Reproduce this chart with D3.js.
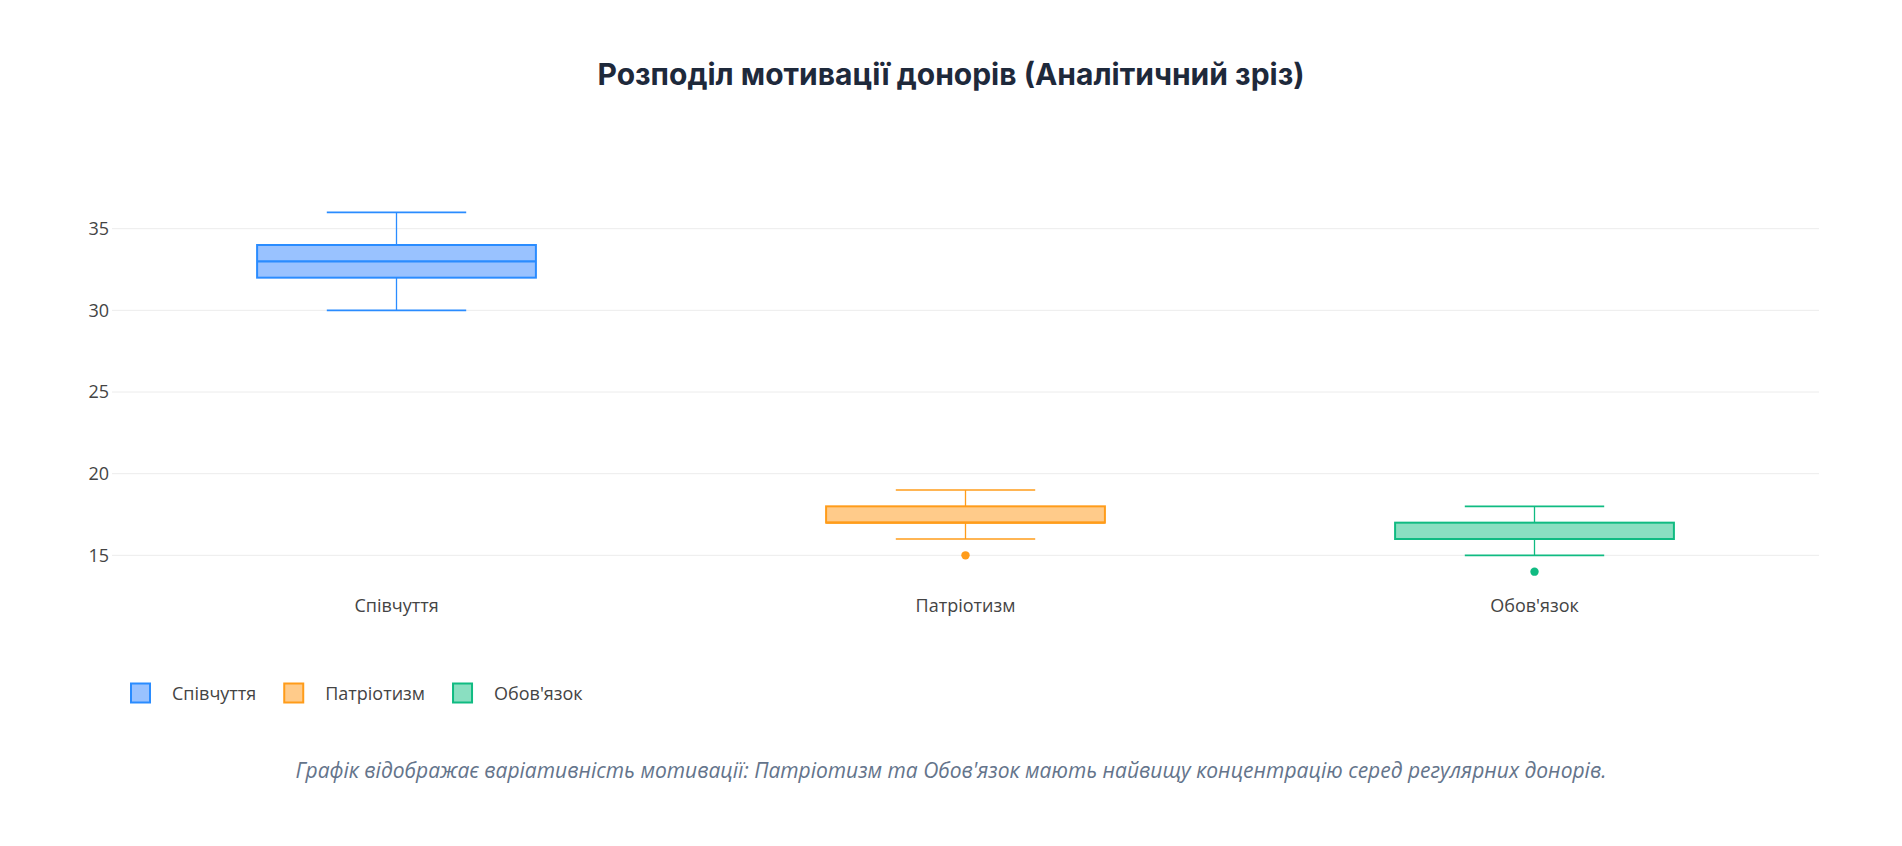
<!DOCTYPE html>
<html>
<head>
<meta charset="utf-8">
<script src="https://cdn.jsdelivr.net/npm/d3@7/dist/d3.min.js"></script>
<style>
  html, body { margin: 0; padding: 0; background: #fff; }
  svg { display: block; }
</style>
</head>
<body>
<svg id="chart" width="1902" height="846"></svg>
<script>
const categories = ["Співчуття", "Патріотизм", "Обов'язок"];
const lowerWhisker = [30, 16, 15];
const q1Values = [32, 17, 16];
const medianValues = [33, 17, 16];
const q3Values = [34, 18, 17];
const upperWhisker = [36, 19, 18];
const outlierValues = [[], [15], [14]];
const yTicks = [15, 20, 25, 30, 35];
const lineColors = ["#2a8cff", "#ff9c1a", "#10bb82"];
const fillColors = ["#99c2ff", "#ffcb8a", "#8adfc1"];

const titleText = "Розподіл мотивації донорів (Аналітичний зріз)";
const captionText = "Графік відображає варіативність мотивації: Патріотизм та Обов'язок мають найвищу концентрацію серед регулярних донорів.";

const W = 1902, H = 846;
const plot = { left: 112, right: 1819, top: 196, bottom: 588 };
const svg = d3.select("#chart");
const tickFont = "'Open Sans', 'Noto Sans', sans-serif";

const x = d3.scaleBand().domain(categories).range([plot.left, plot.right]).padding(0);
const y = d3.scaleLinear().domain([13, 37]).range([plot.bottom, plot.top]);

// Title
svg.append("text")
  .attr("x", W / 2).attr("y", 85)
  .attr("text-anchor", "middle")
  .style("font-family", "Inter, Roboto, sans-serif")
  .style("font-weight", 700)
  .style("font-size", "30px")
  .style("fill", "#1e293b")
  .text(titleText);

// Grid
svg.append("g").selectAll("line").data(yTicks).join("line")
  .attr("x1", plot.left).attr("x2", plot.right)
  .attr("y1", d => y(d)).attr("y2", d => y(d))
  .attr("stroke", "#ececec").attr("stroke-width", 1);

// y axis
const yAxis = d3.axisLeft(y).tickValues(yTicks).tickSize(0).tickPadding(3);
const yg = svg.append("g").attr("transform", `translate(${plot.left},0)`).call(yAxis);
yg.select(".domain").remove();
yg.selectAll("text")
  .style("font-family", tickFont)
  .style("font-size", "18px")
  .style("fill", "#444");

// x axis labels
const xAxis = d3.axisBottom(x).tickSize(0).tickPadding(0);
const xg = svg.append("g").attr("transform", `translate(0,${plot.bottom})`).call(xAxis);
xg.select(".domain").remove();
xg.selectAll("text")
  .attr("dy", null)
  .attr("y", 24)
  .style("font-family", tickFont)
  .style("font-size", "18px")
  .style("fill", "#444");

// Boxes
const boxFrac = 0.49;
const data = categories.map((c, i) => ({
  c, i, lw: lowerWhisker[i], q1: q1Values[i], med: medianValues[i], q3: q3Values[i],
  uw: upperWhisker[i], out: outlierValues[i]
}));

const g = svg.append("g");
data.forEach(d => {
  const cx = x(d.c) + x.bandwidth() / 2;
  const bw = x.bandwidth() * boxFrac;
  const cw = bw / 2;
  const col = lineColors[d.i];
  const grp = g.append("g");
  grp.append("line").attr("x1", cx).attr("x2", cx).attr("y1", y(d.q3)).attr("y2", y(d.uw))
    .attr("stroke", col).attr("stroke-width", 1.3);
  grp.append("line").attr("x1", cx).attr("x2", cx).attr("y1", y(d.q1)).attr("y2", y(d.lw))
    .attr("stroke", col).attr("stroke-width", 1.3);
  [d.uw, d.lw].forEach(v => {
    grp.append("line").attr("x1", cx - cw / 2).attr("x2", cx + cw / 2)
      .attr("y1", y(v)).attr("y2", y(v))
      .attr("stroke", col).attr("stroke-width", 1.6);
  });
  grp.append("rect")
    .attr("x", cx - bw / 2).attr("width", bw)
    .attr("y", y(d.q3)).attr("height", y(d.q1) - y(d.q3))
    .attr("fill", fillColors[d.i]).attr("stroke", col).attr("stroke-width", 2);
  grp.append("line").attr("x1", cx - bw / 2).attr("x2", cx + bw / 2)
    .attr("y1", y(d.med)).attr("y2", y(d.med))
    .attr("stroke", col).attr("stroke-width", 2.2);
  grp.selectAll("circle").data(d.out).join("circle")
    .attr("cx", cx).attr("cy", v => y(v)).attr("r", 4.2)
    .attr("fill", col);
});

// Legend
const legend = svg.append("g");
let lx = 131;
const ly = 693;
categories.forEach((c, i) => {
  const item = legend.append("g");
  item.append("rect")
    .attr("x", lx).attr("y", ly - 9.5).attr("width", 19).attr("height", 19)
    .attr("fill", fillColors[i]).attr("stroke", lineColors[i]).attr("stroke-width", 2);
  const t = item.append("text")
    .attr("x", lx + 41).attr("y", ly + 6.5)
    .style("font-family", tickFont)
    .style("font-size", "18px")
    .style("fill", "#444")
    .text(c);
  lx = lx + 41 + t.node().getComputedTextLength() + 28;
});

// Caption
svg.append("text")
  .attr("x", W / 2).attr("y", 778)
  .attr("text-anchor", "middle")
  .style("font-family", tickFont)
  .style("font-style", "italic")
  .style("font-size", "21px")
  .style("fill", "#64748b")
  .text(captionText);
</script>
</body>
</html>
